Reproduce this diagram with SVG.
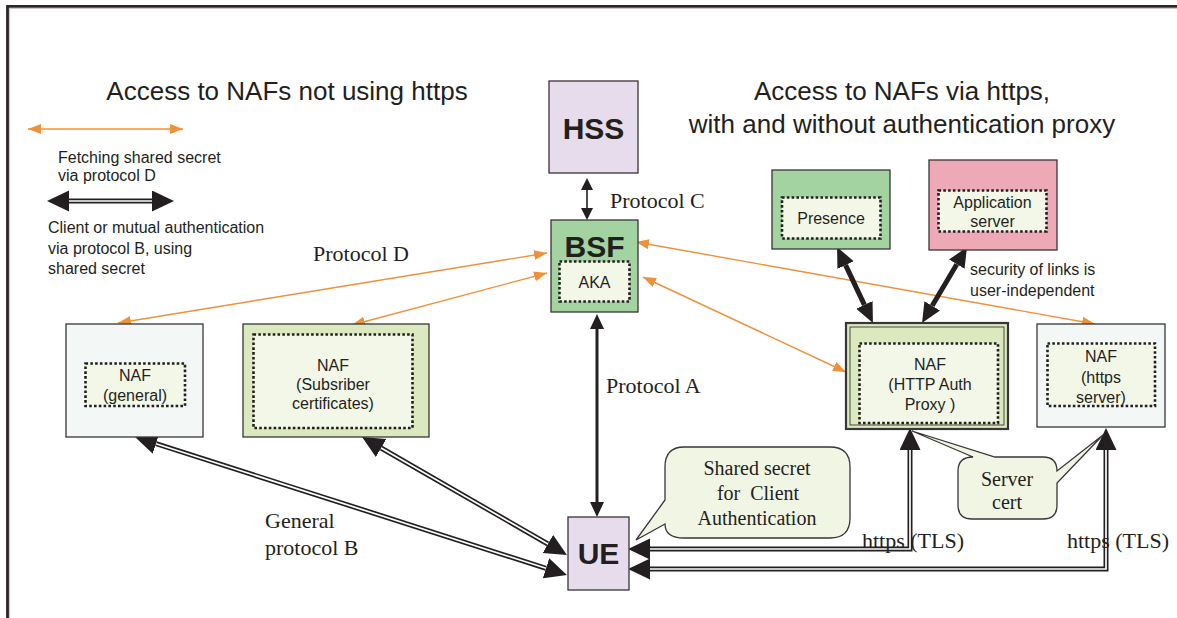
<svg xmlns="http://www.w3.org/2000/svg" width="1177" height="618" viewBox="0 0 1177 618">
  <style>
    .sans { font-family: "Liberation Sans", Arial, sans-serif; fill: #231f20; }
    .serif { font-family: "Liberation Serif", "Times New Roman", serif; fill: #231f20; }
    .title { font-size: 26px; text-anchor: middle; }
    .lg { font-size: 16px; }
    .lbl { font-size: 16px; text-anchor: middle; }
    .big { font-size: 30px; font-weight: bold; text-anchor: middle; }
    .proto { font-size: 22px; }
    .call { font-size: 20px; text-anchor: middle; }
    .box { stroke: #3a3536; stroke-width: 1.3; }
    .inner { fill: #f3f7e8; stroke: #231f20; stroke-width: 2.6; stroke-dasharray: 2.6 2.2; }
    .lav { fill: #e6dcec; }
    .grn { fill: #a3d3a0; }
    .lgrn { fill: #dbe9bf; }
    .pale { fill: #f3f8f6; }
    .pink { fill: #eea9b6; }
    .orange { fill: none; stroke: #f0903a; stroke-width: 1.4; marker-start: url(#oHead); marker-end: url(#oHead); }
    .dblO { fill: none; stroke: #231f20; stroke-width: 5; stroke-linejoin: miter; }
    .dblI { fill: none; stroke: #ffffff; stroke-width: 1.7; stroke-linejoin: miter; }
    .dblH { fill: none; stroke: none; marker-start: url(#bigHead); marker-end: url(#bigHead); }
    .thick { fill: none; stroke: #231f20; stroke-width: 5; marker-start: url(#thickHead); marker-end: url(#thickHead); }
    .callout { fill: #f1f6e4; stroke: #3a3536; stroke-width: 1.3; }
  </style>
  <defs>
    <marker id="oHead" markerUnits="userSpaceOnUse" markerWidth="14" markerHeight="11" refX="13" refY="5" orient="auto-start-reverse">
      <path d="M0,0 L13,5 L0,10 Z" fill="#f0903a"/>
    </marker>
    <marker id="bigHead" markerUnits="userSpaceOnUse" markerWidth="23" markerHeight="22" refX="0" refY="10.5" orient="auto-start-reverse">
      <path d="M0,0 L22,10.5 L0,21 Z" fill="#231f20"/>
    </marker>
    <marker id="thickHead" markerUnits="userSpaceOnUse" markerWidth="21" markerHeight="19" refX="0" refY="9" orient="auto-start-reverse">
      <path d="M0,0 L20,9 L0,18 Z" fill="#231f20"/>
    </marker>
    <marker id="headA" markerUnits="userSpaceOnUse" markerWidth="16" markerHeight="15" refX="0" refY="7" orient="auto-start-reverse">
      <path d="M0,0 L15,7 L0,14 Z" fill="#231f20"/>
    </marker>
    <marker id="headC" markerUnits="userSpaceOnUse" markerWidth="13" markerHeight="13" refX="0" refY="6" orient="auto-start-reverse">
      <path d="M0,0 L12,6 L0,12 Z" fill="#231f20"/>
    </marker>
  </defs>

  <rect width="1177" height="618" fill="#ffffff"/>

  <!-- page frame -->
  <g id="frame">
    <path d="M7.5,618 V6.3 H1177" fill="none" stroke="#2b2526" stroke-width="2.8"/>
    <path d="M9.6,618 V8.4 H1177" fill="none" stroke="#b8b2b2" stroke-width="0.8"/>
  </g>

  <!-- headings -->
  <g id="headings">
    <text class="sans title" x="287" y="100">Access to NAFs not using https</text>
    <text class="sans title" x="902" y="100">Access to NAFs via https,</text>
    <text class="sans title" x="902" y="133">with and without authentication proxy</text>
  </g>

  <!-- legend -->
  <g id="legend">
    <path class="orange" d="M28,129 H183"/>
    <text class="sans lg" x="58" y="163">Fetching shared secret</text>
    <text class="sans lg" x="58" y="181">via protocol D</text>
    <path class="dblO" d="M69,201 H152"/>
    <path class="dblI" d="M69,201 H152"/>
    <path class="dblH" d="M69,201 H152"/>
    <text class="sans lg" x="48" y="233">Client or mutual authentication</text>
    <text class="sans lg" x="48" y="254">via protocol B, using</text>
    <text class="sans lg" x="48" y="274">shared secret</text>
  </g>

  <!-- connectors -->
  <g id="connectors">
    <!-- protocol D (orange) -->
    <path class="orange" d="M118,323 L547,253"/>
    <path class="orange" d="M352,325 L547,273"/>
    <path class="orange" d="M636,242 L1095,324"/>
    <path class="orange" d="M643,277 L846,372"/>

    <!-- protocol C -->
    <path d="M587,190 V208" fill="none" stroke="#231f20" stroke-width="1.6" marker-start="url(#headC)" marker-end="url(#headC)"/>
    <!-- protocol A -->
    <path d="M597,329 V502" fill="none" stroke="#231f20" stroke-width="3" marker-start="url(#headA)" marker-end="url(#headA)"/>

    <!-- user-independent links -->
    <path class="thick" d="M845.6,265.1 L864.4,304.9"/>
    <path class="thick" d="M956.8,264.2 L932.2,305.8"/>

    <!-- protocol B double links -->
    <path class="dblO" d="M156,443.7 L546,568.3"/>
    <path class="dblI" d="M156,443.7 L546,568.3"/>
    <path class="dblH" d="M156,443.7 L546,568.3"/>

    <path class="dblO" d="M381.1,448 L547.9,544"/>
    <path class="dblI" d="M381.1,448 L547.9,544"/>
    <path class="dblH" d="M381.1,448 L547.9,544"/>

    <path class="dblO" d="M650,549 H910 V450"/>
    <path class="dblI" d="M650,549 H910 V450"/>
    <path class="dblH" d="M650,549 H910 V450"/>

    <path class="dblO" d="M650,569 H1106 V450"/>
    <path class="dblI" d="M650,569 H1106 V450"/>
    <path class="dblH" d="M650,569 H1106 V450"/>

    <text class="serif proto" x="313" y="261">Protocol D</text>
    <text class="serif proto" x="610" y="208">Protocol C</text>
    <text class="serif proto" x="606" y="393">Protocol A</text>
    <text class="serif proto" x="265" y="528">General</text>
    <text class="serif proto" x="265" y="555">protocol B</text>
    <text class="serif proto" x="862" y="548">https (TLS)</text>
    <text class="serif proto" x="1067" y="548">https (TLS)</text>
    <text class="sans lg" x="970" y="275">security of links is</text>
    <text class="sans lg" x="970" y="296">user-independent</text>
  </g>

  <!-- nodes -->
  <g id="hss">
    <rect class="box lav" x="549" y="81" width="89" height="92"/>
    <text class="sans big" x="593.5" y="139">HSS</text>
  </g>

  <g id="bsf">
    <rect class="box grn" x="551" y="220" width="87" height="92"/>
    <text class="sans big" x="594.5" y="257">BSF</text>
    <rect class="inner" x="559.5" y="261.5" width="70" height="40"/>
    <text class="sans lbl" x="594.5" y="288">AKA</text>
  </g>

  <g id="ue">
    <rect class="box lav" x="568" y="517" width="61" height="73"/>
    <text class="sans big" x="598.5" y="564">UE</text>
  </g>

  <g id="presence">
    <rect class="box grn" x="772" y="170" width="118" height="79"/>
    <rect class="inner" x="782" y="197.5" width="98.5" height="41"/>
    <text class="sans lbl" x="831" y="224">Presence</text>
  </g>

  <g id="app-server">
    <rect class="box pink" x="929" y="160" width="128" height="90"/>
    <rect class="inner" x="938.5" y="190.5" width="108" height="41"/>
    <text class="sans lbl" x="992.5" y="208">Application</text>
    <text class="sans lbl" x="992.5" y="227">server</text>
  </g>

  <g id="naf-general">
    <rect class="box pale" x="66" y="324" width="137" height="113"/>
    <rect class="inner" x="85.5" y="363.5" width="99.5" height="42.5"/>
    <text class="sans lbl" x="135" y="381">NAF</text>
    <text class="sans lbl" x="135" y="401">(general)</text>
  </g>

  <g id="naf-subscriber">
    <rect class="box lgrn" x="243" y="324" width="186" height="113"/>
    <rect class="inner" x="253.5" y="334.5" width="159" height="93.5"/>
    <text class="sans lbl" x="333" y="371">NAF</text>
    <text class="sans lbl" x="333" y="390">(Subsriber</text>
    <text class="sans lbl" x="333" y="409">certificates)</text>
  </g>

  <g id="naf-proxy">
    <rect class="lgrn" x="846" y="323" width="162" height="106" stroke="#3a3536" stroke-width="2.2"/>
    <rect x="850" y="327" width="154" height="98" fill="none" stroke="#3a3536" stroke-width="0.9"/>
    <rect class="inner" x="859.5" y="343.5" width="138.5" height="79.5"/>
    <text class="sans lbl" x="930" y="370">NAF</text>
    <text class="sans lbl" x="930" y="390">(HTTP Auth</text>
    <text class="sans lbl" x="930" y="410">Proxy )</text>
  </g>

  <g id="naf-https">
    <rect class="box pale" x="1037" y="324" width="128" height="103"/>
    <rect class="inner" x="1047.5" y="343.5" width="107.5" height="62.5"/>
    <text class="sans lbl" x="1101" y="362">NAF</text>
    <text class="sans lbl" x="1101" y="383">(https</text>
    <text class="sans lbl" x="1101" y="403">server)</text>
  </g>

  <g id="note-shared-secret">
    <path class="callout" d="M684,447 H830 Q850,447 850,467 V518 Q850,538 830,538 H684 Q665,538 665,524 L636,540 L665,500 V467 Q665,447 684,447 Z"/>
    <text class="serif call" x="757" y="475">Shared secret</text>
    <text class="serif call" x="758" y="500" xml:space="preserve">for  Client</text>
    <text class="serif call" x="757" y="525">Authentication</text>
  </g>

  <g id="note-server-cert">
    <path class="callout" d="M973,457 L912,431 L995,457 H1043 Q1057,457 1057,471 L1103,435 L1057,483 V505 Q1057,519 1043,519 H972 Q958,519 958,505 V471 Q958,457 973,457 Z"/>
    <text class="serif call" x="1007" y="486">Server</text>
    <text class="serif call" x="1007" y="509">cert</text>
  </g>
</svg>
